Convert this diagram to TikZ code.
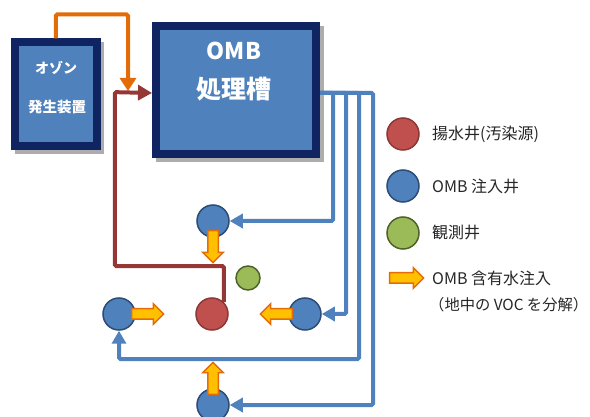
\documentclass[tikz,border=0pt]{standalone}
\usepackage{fontspec}
\setmainfont{Noto Sans CJK JP}
\usetikzlibrary{arrows.meta,shapes.arrows}
\definecolor{navy}{HTML}{0F2461}
\definecolor{boxblue}{HTML}{4F81BD}
\definecolor{pipeblue}{HTML}{4F81BD}
\definecolor{welledge}{HTML}{2C4D75}
\definecolor{wellred}{HTML}{C0504D}
\definecolor{rededge}{HTML}{8C3836}
\definecolor{wellgreen}{HTML}{9BBB59}
\definecolor{greenedge}{HTML}{4F6228}
\definecolor{redpipe}{HTML}{953735}
\definecolor{orangepipe}{HTML}{E36C09}
\definecolor{fatfill}{HTML}{FFC000}
\definecolor{shadowc}{HTML}{ADADAD}
\tikzset{
  bigbox/.style={draw=navy, fill=boxblue, line width=8pt, inner sep=0pt},
  boxtext/.style={text=white, inner sep=0pt},
  well/.style={circle, minimum size=32pt, inner sep=0pt, line width=1.5pt},
  bluewell/.style={well, fill=boxblue, draw=welledge},
  redwell/.style={well, fill=wellred, draw=rededge},
  greenwell/.style={well, fill=wellgreen, draw=greenedge},
  pipe/.style={draw=pipeblue, line width=4pt, rounded corners=1.5pt, -{Triangle[length=13pt,width=14pt]}},
  redline/.style={draw=redpipe, line width=4pt, rounded corners=1.5pt, -{Triangle[length=14pt,width=15pt]}},
  orangeline/.style={draw=orangepipe, line width=4pt, rounded corners=1.5pt, -{Triangle[length=13pt,width=16pt]}},
  fatarrow/.style={single arrow, draw=orangepipe, fill=fatfill, line width=1.5pt, inner xsep=0pt, inner ysep=4.5pt, single arrow head extend=5pt, minimum height=32pt},
  legtext/.style={anchor=west, inner sep=0pt, text=black!85, font=\fontsize{16}{19}\selectfont},
}
\begin{document}
\begin{tikzpicture}[x=1pt,y=-1pt]
\useasboundingbox (0,0) rectangle (590,417);
% shadows
\fill[shadowc] (15,42) rectangle (104,154);
\fill[shadowc] (156,26) rectangle (324,162);
% boxes
\node[bigbox, minimum width=81.5pt, minimum height=103.5pt] (ozone) at (55.75,94.25) {};
\node[boxtext, font=\bfseries\fontsize{14}{16}\selectfont] (oz1) at (56,68) {オゾン};
\node[boxtext, font=\bfseries\fontsize{14.5}{16}\selectfont] (oz2) at (57,107) {発生装置};
\node[bigbox, minimum width=160pt, minimum height=128pt] (tank) at (236,90) {};
\node[boxtext, font=\bfseries\fontsize{23}{26}\selectfont] (omb) at (234,51) {OMB};
\node[boxtext, font=\bfseries\fontsize{25}{30}\selectfont] (shori) at (234,89) {処理槽};
% wells
\node[bluewell] (wTop) at (213,221) {};
\node[bluewell] (wLeft) at (119,314) {};
\node[bluewell] (wRight) at (305,314) {};
\node[bluewell] (wBottom) at (213,405) {};
\node[redwell] (red) at (212,314) {};
\node[greenwell, minimum size=24pt] (green) at (248,278) {};
% coordinates
\coordinate (bus) at (tank.east |- 0,93);
\coordinate (tipO) at (128,91);
% orange line
\draw[orangeline] (ozone.north) -- ++(0,-24) -| (tipO);
% red line
\draw[redline] (red.north east) -- ++(0,-36) -- ++(-109,0) -- ++(0,-174) -- (tank.west |- 0,93);
% blue pipes
\draw[pipe] (bus) -- ++(13,0) |- (wTop.east);
\draw[pipe] (bus) -- ++(26,0) |- (wRight.east);
\draw[pipe] (bus) -- ++(39,0) -- ++(0,266) -| (wLeft.south);
\draw[pipe] (bus) -- ++(53,0) |- (wBottom.east);
% fat arrows
\node[fatarrow, rotate=-90] (fa1) at (213,244) {};
\node[fatarrow] (fa2) at (145,314) {};
\node[fatarrow, rotate=180] (fa3) at (279,314) {};
\node[fatarrow, rotate=90] (fa4) at (213,381) {};
% legend
\node[redwell] (lg1) at (403,134) {};
\node[bluewell] (lg2) at (403,186) {};
\node[greenwell] (lg3) at (403,233) {};
\node[fatarrow, minimum height=34pt] (lg4) at (404,278) {};
\node[legtext] (t1) at (432,134) {揚水井(汚染源)};
\node[legtext] (t2) at (432,186) {OMB 注入井};
\node[legtext] (t3) at (432,233) {観測井};
\node[legtext] (t4) at (432,278) {OMB 含有水注入};
\node[legtext, font=\fontsize{15.3}{18}\selectfont] (t5) at (429,305) {（地中の VOC を分解）};
\end{tikzpicture}
\end{document}
